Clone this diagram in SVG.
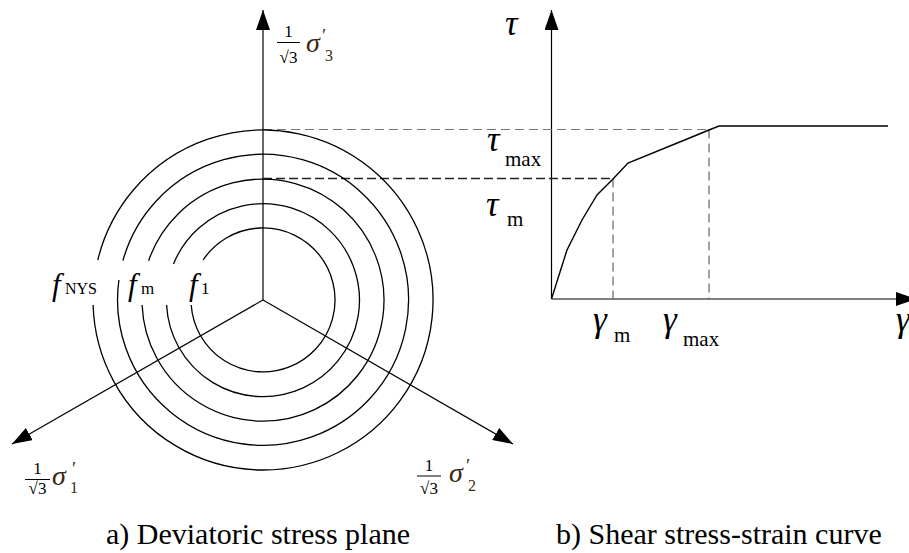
<svg xmlns="http://www.w3.org/2000/svg" width="909" height="553" viewBox="0 0 909 553">
<defs>
<style>
.ax{stroke:#000;stroke-width:1.2;fill:none}
.arc{stroke:#000;stroke-width:1.3;fill:none}
.crv{stroke:#000;stroke-width:1.4;fill:none}
.dl{stroke:#777;stroke-width:1.1;stroke-dasharray:9 5;fill:none}
.dv{stroke:#555;stroke-width:1.1;stroke-dasharray:9 5;fill:none}
.dd{stroke:#222;stroke-width:1.3;stroke-dasharray:9 4;fill:none}
.frac{stroke:#000;stroke-width:1}
text{font-family:"Liberation Serif","Times New Roman",serif;fill:#000}
.it{font-style:italic}
.num{font-size:17px;text-anchor:middle}
.sig{font-size:28px;font-style:italic;fill:#3a2a14}
.sub{font-size:16px;fill:#3a2a14}
.pr{font-size:19px;fill:#3a2a14}
.gr{font-size:35px;font-style:italic}
.gs{font-size:21px}
.cap{font-size:30px}
</style>
<marker id="ah" markerUnits="userSpaceOnUse" markerWidth="20" markerHeight="14" refX="20" refY="7" orient="auto">
<path d="M0,0 L20,7 L0,14 z" fill="#000"/>
</marker>
</defs>

<g id="connectors">
<line class="ax" x1="263" y1="300" x2="263" y2="10" marker-end="url(#ah)"/>
<line class="ax" x1="263" y1="300" x2="12" y2="444" marker-end="url(#ah)"/>
<line class="ax" x1="263" y1="300" x2="513" y2="444" marker-end="url(#ah)"/>
<line class="ax" x1="551.5" y1="299" x2="551.5" y2="10" marker-end="url(#ah)"/>
<line class="ax" x1="551.5" y1="299" x2="916" y2="299" marker-end="url(#ah)"/>
<line class="dl" x1="263" y1="129.5" x2="709" y2="129.5"/>
<line class="dd" x1="263" y1="178.5" x2="613" y2="178.5"/>
<line class="dv" x1="613" y1="178.5" x2="613" y2="299"/>
<line class="dv" x1="709" y1="129.5" x2="709" y2="299"/>
</g>

<g id="circle-NYS"><path class="arc" d="M93.1,305 A170,170 0 1 0 97.8,260"/></g>
<g id="circle-2"><path class="arc" d="M118.9,280 A145.5,145.5 0 1 0 122.9,260.7"/></g>
<g id="circle-m"><path class="arc" d="M142.1,305 A121,121 0 1 0 148.6,260.7"/></g>
<g id="circle-4"><path class="arc" d="M166.6,305 A96.5,96.5 0 1 0 173.5,264"/></g>
<g id="circle-1"><path class="arc" d="M191.2,305 A72,72 0 1 0 203.1,260"/></g>

<g id="label-fNYS"><text x="52" y="295" class="it" font-size="31">f</text><text x="65" y="294" font-size="16">NYS</text></g>
<g id="label-fm"><text x="128" y="295" class="it" font-size="31">f</text><text x="141" y="294" font-size="17">m</text></g>
<g id="label-f1"><text x="189" y="295" class="it" font-size="31">f</text><text x="201" y="294" font-size="17">1</text></g>

<g id="label-s3">
<text class="num" x="288.5" y="37">1</text>
<line class="frac" x1="277" y1="42.5" x2="300" y2="42.5"/>
<text class="num" x="288.5" y="63">√3</text>
<text class="sig" x="306" y="52">σ</text>
<text class="pr" x="322" y="42">′</text>
<text class="sub" x="325" y="61">3</text>
</g>
<g id="label-s1">
<text class="num" x="37.5" y="474">1</text>
<line class="frac" x1="25" y1="479.5" x2="50" y2="479.5"/>
<text class="num" x="37.5" y="494">√3</text>
<text class="sig" x="52" y="485">σ</text>
<text class="pr" x="72" y="475">′</text>
<text class="sub" x="70" y="493">1</text>
</g>
<g id="label-s2">
<text class="num" x="429" y="471">1</text>
<line class="frac" x1="417" y1="476" x2="441" y2="476"/>
<text class="num" x="429" y="494">√3</text>
<text class="sig" x="449" y="482">σ</text>
<text class="pr" x="466" y="472">′</text>
<text class="sub" x="468" y="491">2</text>
</g>

<g id="curve"><polyline class="crv" points="551.5,299 560,272 567,250 582,220 597,195 613,179 628,163 692,137 709,130 719,126 888,126"/></g>

<g id="label-tau"><text class="gr" x="505" y="35">τ</text></g>
<g id="label-taumax"><text class="gr" x="487" y="151">τ</text><text class="gs" x="505" y="166">max</text></g>
<g id="label-taum"><text class="gr" x="486" y="216">τ</text><text class="gs" x="507" y="226">m</text></g>
<g id="label-gm"><text class="gr" x="593" y="331">γ</text><text class="gs" x="614" y="342">m</text></g>
<g id="label-gmax"><text class="gr" x="663" y="331">γ</text><text class="gs" x="683" y="346">max</text></g>
<g id="label-g"><text class="gr" x="896" y="331">γ</text></g>

<g id="caption-a"><text class="cap" x="106" y="544">a) Deviatoric stress plane</text></g>
<g id="caption-b"><text class="cap" x="556" y="544">b) Shear stress-strain curve</text></g>
</svg>
